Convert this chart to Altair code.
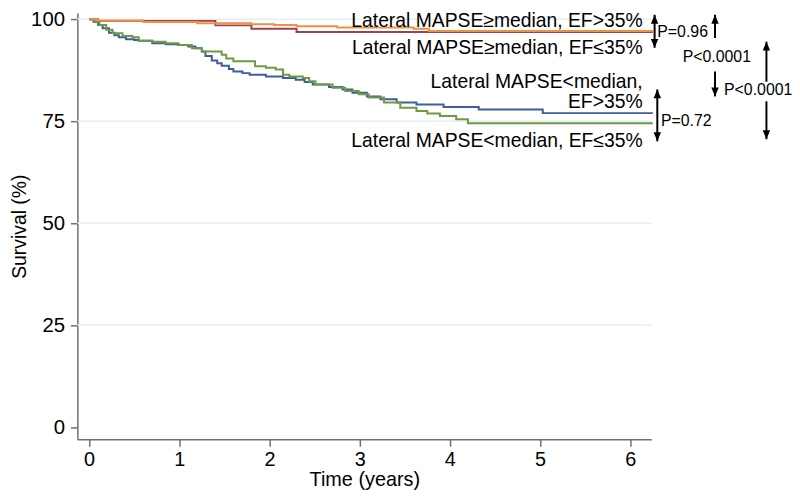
import altair as alt
import pandas as pd

# ---- survival curves (time in years, survival %) ----
blue_t = [0, 0.05, 0.1, 0.15, 0.22, 0.28, 0.33, 0.41, 0.5, 0.55, 0.7, 0.85, 0.99, 1.1, 1.18, 1.25, 1.29,
          1.36, 1.42, 1.47, 1.55, 1.6, 1.7, 1.78, 1.96, 2.15, 2.29, 2.39, 2.48, 2.66, 2.81, 2.92, 3.08,
          3.23, 3.41, 3.63, 3.93, 4.32, 5.03, 6.25]
blue_v = [100, 99.3, 98.6, 97.8, 96.7, 96.1, 95.6, 95.1, 94.9, 94.7, 94.1, 93.9, 93.7, 93.3, 92.9, 92.1, 91.0,
          89.9, 89.2, 88.6, 87.8, 87.2, 86.8, 86.4, 86.0, 85.6, 85.2, 84.6, 84.0, 83.4, 82.8, 82.0, 81.1,
          80.4, 79.6, 79.1, 78.5, 77.9, 77.0, 77.0]

green_t = [0, 0.06, 0.115, 0.19, 0.26, 0.37, 0.48, 0.55, 0.70, 0.85, 0.99, 1.14, 1.25, 1.47, 1.52, 1.6,
           1.84, 1.96, 2.07, 2.15, 2.22, 2.37, 2.44, 2.51, 2.70, 2.84, 2.99, 3.10, 3.27, 3.45, 3.63, 3.75,
           3.89, 4.07, 4.2, 6.25]
green_v = [100, 99.4, 98.6, 97.4, 96.6, 95.9, 95.6, 94.8, 94.5, 94.1, 93.7, 92.9, 92.1, 91.3, 90.4, 89.7,
           88.5, 88.1, 87.7, 86.4, 86.0, 85.6, 84.8, 84.0, 83.2, 82.4, 81.6, 80.8, 79.6, 78.3, 77.5, 76.9,
           76.3, 75.5, 74.5, 74.5]

red_t = [0, 0.1, 1.4, 1.8, 2.3, 6.25]
red_v = [100, 99.6, 98.5, 97.7, 96.9, 96.9]

orange_t = [0, 0.1, 0.6, 1.2, 1.8, 2.05, 2.3, 2.75, 3.6, 3.77, 6.25]
orange_v = [100, 99.7, 99.3, 99.0, 98.8, 98.6, 98.3, 98.0, 97.7, 97.1, 97.1]

series_colors = {"blue": "#3d5f9c", "green": "#6f9a45", "red": "#a3404f", "orange": "#eb9340"}

# ---- annotation labels ----
label_texts = ["Lateral MAPSE≥median, EF>35%", "Lateral MAPSE≥median, EF≤35%",
               "Lateral MAPSE<median,", "EF>35%", "Lateral MAPSE<median, EF≤35%"]
label_t = [6.137, 6.137, 6.137, 6.137, 6.137]
label_v = [99.6, 93.0, 84.5, 79.6, 70.1]

p_texts = ["P=0.96", "P<0.0001", "P<0.0001", "P=0.72"]
p_t = [6.30, 6.96, 7.04, 6.34]
p_v = [96.9, 90.8, 82.6, 75.0]
p_align = ["left", "center", "left", "left"]

# arrows: x (years), top, bottom (survival %), heads
arrow_t = [6.27, 6.94, 6.94, 7.51, 7.51, 6.30]
arrow_top = [101.1, 101.1, 87.2, 94.5, 79.9, 82.8]
arrow_bot = [93.0, 95.4, 81.1, 84.7, 70.6, 70.1]
arrow_up = [True, True, False, True, False, True]
arrow_down = [True, False, True, False, True, True]

grid_values = [25, 50, 75, 100]
x_ticks = [0, 1, 2, 3, 4, 5, 6]
y_ticks = [0, 25, 50, 75, 100]

W, H = 579, 430
FONT = "Liberation Sans"
AXCOL = "#707070"

xscale = alt.Scale(domain=[-0.13, 6.233], nice=False, zero=False)
yscale = alt.Scale(domain=[-2.92, 101.5], nice=False, zero=False)

xaxis = alt.Axis(values=x_ticks, format="d", title="Time (years)", grid=False, tickSize=7,
                 domainColor=AXCOL, tickColor=AXCOL, domainWidth=1.5, tickWidth=1.5,
                 labelFontSize=20, labelFont=FONT, labelColor="black", labelPadding=3,
                 titleFont=FONT, titleFontSize=20, titleFontWeight="normal", titleColor="black",
                 titlePadding=1)
yaxis = alt.Axis(values=y_ticks, format="d", title="Survival (%)", grid=False, tickSize=7,
                 domainColor=AXCOL, tickColor=AXCOL, domainWidth=1.5, tickWidth=1.5,
                 labelFontSize=20.5, labelFont=FONT, labelColor="black", labelPadding=6,
                 titleFont=FONT, titleFontSize=19.5, titleFontWeight="normal", titleColor="black",
                 titlePadding=1)

grid = alt.Chart(pd.DataFrame({"v": grid_values})).mark_rule(color="#e7eef2", strokeWidth=1.5).encode(
    y=alt.Y("v:Q", scale=yscale, axis=yaxis), x=alt.value(0), x2=alt.value(W))

def curve(ts, vs, col):
    df = pd.DataFrame({"t": ts, "v": vs})
    return alt.Chart(df).mark_line(interpolate="step-after", strokeWidth=2, color=col).encode(
        x=alt.X("t:Q", scale=xscale, axis=xaxis), y=alt.Y("v:Q", scale=yscale, axis=yaxis))

lines = [curve(blue_t, blue_v, series_colors["blue"]),
         curve(green_t, green_v, series_colors["green"]),
         curve(red_t, red_v, series_colors["red"]),
         curve(orange_t, orange_v, series_colors["orange"])]

labels = alt.Chart(pd.DataFrame({"t": label_t, "v": label_v, "txt": label_texts})).mark_text(
    align="right", baseline="middle", font=FONT, fontSize=19.5, color="black").encode(
    x=alt.X("t:Q", scale=xscale), y=alt.Y("v:Q", scale=yscale), text="txt:N")

pdf = pd.DataFrame({"t": p_t, "v": p_v, "txt": p_texts, "al": p_align})
ptext_layers = []
for al in ["left", "center"]:
    sub = pdf[pdf["al"] == al]
    ptext_layers.append(alt.Chart(sub).mark_text(
        align=al, baseline="middle", font=FONT, fontSize=16, color="black").encode(
        x=alt.X("t:Q", scale=xscale), y=alt.Y("v:Q", scale=yscale), text="txt:N"))

adf = pd.DataFrame({"t": arrow_t, "top": arrow_top, "bot": arrow_bot, "up": arrow_up, "down": arrow_down})
shafts = alt.Chart(adf).mark_rule(color="black", strokeWidth=2).encode(
    x=alt.X("t:Q", scale=xscale), y=alt.Y("top:Q", scale=yscale), y2="bot:Q")
ups = alt.Chart(adf[adf["up"]]).mark_point(
    shape="M0,0L-0.5,1.2L0.5,1.2Z", filled=True, color="black", opacity=1, size=225, strokeWidth=0).encode(
    x=alt.X("t:Q", scale=xscale), y=alt.Y("top:Q", scale=yscale))
downs = alt.Chart(adf[adf["down"]]).mark_point(
    shape="M0,0L-0.5,-1.2L0.5,-1.2Z", filled=True, color="black", opacity=1, size=225, strokeWidth=0).encode(
    x=alt.X("t:Q", scale=xscale), y=alt.Y("bot:Q", scale=yscale))

chart = alt.layer(grid, *lines, labels, *ptext_layers, shafts, ups, downs).properties(
    width=W, height=H,
    autosize=alt.AutoSizeParams(type="none"),
    padding={"left": 70, "top": 3, "right": 142, "bottom": 54},
    background="white",
).configure_view(stroke=None)

chart.save("out.html", embed_options={"renderer": "svg", "actions": False})
